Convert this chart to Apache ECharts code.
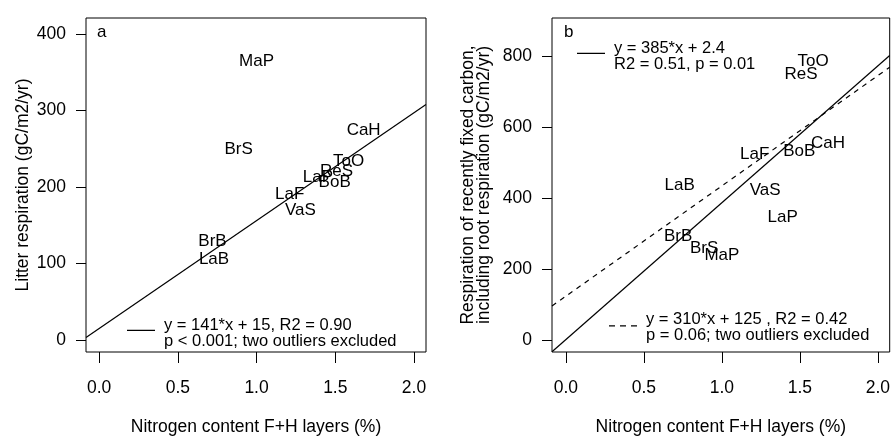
<!DOCTYPE html>
<html>
<head>
<meta charset="utf-8">
<script src="https://cdn.jsdelivr.net/npm/echarts@6/dist/echarts.min.js"></script>
<style>
html, body { margin: 0; padding: 0; background: #fff; }
#chart { width: 893px; height: 441px; }
</style>
</head>
<body>
<div id="chart"></div>
<script>
// site codes and nitrogen content of F+H layers (%)
var sites = ['LaB', 'BrB', 'BrS', 'MaP', 'LaF', 'VaS', 'LaP', 'BoB', 'ReS', 'ToO', 'CaH'];
var nitrogen = [0.73, 0.72, 0.886, 1.0, 1.21, 1.278, 1.39, 1.496, 1.508, 1.585, 1.68];
// panel a: litter respiration (gC/m2/yr)
var litterResp = [106, 129, 249, 364, 190, 169, 213, 206, 221, 234, 274];
// panel b: respiration of recently fixed carbon (gC/m2/yr)
var fixedResp = [436, 292, 260, 239, 525, 422, 346, 533, 749, 785, 554];

// regression lines, end points read at the plot edges
var fitA = [[-0.083, 3.3], [2.076, 307.7]];
var fitB = [[-0.089, -32], [2.076, 802]];
var fitBExcl = [[-0.089, 97], [2.076, 769]];

var xTicks = [0, 0.5, 1, 1.5, 2];
var yTicksA = [0, 100, 200, 300, 400];
var yTicksB = [0, 200, 400, 600, 800];

var legendA = 'y = 141*x + 15, R2 = 0.90\np < 0.001; two outliers excluded';
var legendB = 'y = 385*x + 2.4\nR2 = 0.51, p = 0.01';
var legendBExcl = 'y = 310*x + 125 , R2 = 0.42\np = 0.06; two outliers excluded';

var FONT = '"Liberation Sans", Arial, sans-serif';

// legend keys: a short line sitting a little above the middle of the two text lines
var SOLID_KEY = 'path://M0,0h0.01v0.01h-0.01z M0,3.5h28v1.2h-28z M27.99,13.99h0.01v0.01h-0.01z';
var DASH_KEY = 'path://M0,0h0.01v0.01h-0.01z M0,5h6v1.2h-6z M11,5h6v1.2h-6z M22,5h6v1.2h-6z M27.99,13.99h0.01v0.01h-0.01z';

function pointData(ys) {
    var out = [];
    for (var i = 0; i < sites.length; i++) {
        out.push([nitrogen[i], ys[i], sites[i]]);
    }
    return out;
}

function xAxisFor(idx, min, max) {
    return {
        gridIndex: idx,
        type: 'value',
        min: min,
        max: max,
        axisLine: { show: false, onZero: false },
        splitLine: { show: false },
        axisTick: { show: true, inside: false, length: 11, customValues: xTicks, lineStyle: { color: '#000' } },
        axisLabel: {
            customValues: xTicks,
            formatter: function (v) { return v.toFixed(1); },
            margin: 27,
            color: '#000',
            fontSize: 17.5,
            fontFamily: FONT
        },
        name: 'Nitrogen content F+H layers (%)',
        nameLocation: 'middle',
        nameGap: 66,
        nameTextStyle: { color: '#000', fontSize: 17.5, fontFamily: FONT }
    };
}

function yAxisFor(idx, min, max, ticks, name, gap) {
    return {
        gridIndex: idx,
        type: 'value',
        min: min,
        max: max,
        axisLine: { show: false, onZero: false },
        splitLine: { show: false },
        axisTick: { show: true, inside: false, length: 10, customValues: ticks, lineStyle: { color: '#000' } },
        axisLabel: {
            customValues: ticks,
            margin: 20,
            color: '#000',
            fontSize: 17.5,
            fontFamily: FONT
        },
        name: name,
        nameLocation: 'middle',
        nameGap: gap,
        nameTextStyle: { color: '#000', fontSize: 17.5, fontFamily: FONT, lineHeight: 16 }
    };
}

function labelSeries(idx, ys) {
    return {
        type: 'scatter',
        xAxisIndex: idx,
        yAxisIndex: idx,
        data: pointData(ys),
        symbolSize: 0,
        itemStyle: { color: '#000', opacity: 1 },
        label: {
            show: true,
            position: 'inside',
            formatter: function (p) { return p.value[2]; },
            color: '#000',
            opacity: 1,
            fontSize: 17,
            fontFamily: FONT
        },
        labelLayout: { hideOverlap: false },
        silent: true
    };
}

function lineSeries(name, idx, data, dash) {
    return {
        name: name,
        type: 'line',
        xAxisIndex: idx,
        yAxisIndex: idx,
        data: data,
        symbol: 'none',
        itemStyle: { color: '#000' },
        lineStyle: { color: '#000', width: 1.2, type: dash ? [5, 5] : 'solid' },
        silent: true
    };
}

function legendFor(name, text, icon, left, top) {
    return {
        data: [name],
        left: left,
        top: top,
        padding: 0,
        icon: icon,
        itemWidth: 28,
        itemHeight: 14,
        itemStyle: { color: '#000', borderWidth: 0 },
        selectedMode: false,
        formatter: function () { return text; },
        textStyle: { color: '#000', fontSize: 16.5, fontFamily: FONT, lineHeight: 15.5, padding: [0, 0, 0, 4] }
    };
}

var chart = echarts.init(document.getElementById('chart'));

var option = {
    backgroundColor: '#fff',
    animation: false,
    title: [
        { text: 'a', left: 97, top: 24, padding: 0, textStyle: { color: '#000', fontSize: 17, fontWeight: 'normal', fontFamily: FONT } },
        { text: 'b', left: 564, top: 24, padding: 0, textStyle: { color: '#000', fontSize: 17, fontWeight: 'normal', fontFamily: FONT } }
    ],
    grid: [
        { left: 86, top: 18, width: 340, height: 338, show: true, borderColor: '#000', borderWidth: 1 },
        { left: 552, top: 18, width: 341, height: 338, show: true, borderColor: '#000', borderWidth: 1 }
    ],
    xAxis: [
        xAxisFor(0, -0.083, 2.076),
        xAxisFor(1, -0.089, 2.076)
    ],
    yAxis: [
        yAxisFor(0, -15.5, 420.6, yTicksA, 'Litter respiration (gC/m2/yr)', 55),
        yAxisFor(1, -32.5, 907.6, yTicksB, 'Respiration of recently fixed carbon,\nincluding root respiration (gC/m2/yr)', 60)
    ],
    legend: [
        legendFor('fitA', legendA, SOLID_KEY, 127, 317),
        legendFor('fitB', legendB, SOLID_KEY, 577, 40),
        legendFor('fitBExcl', legendBExcl, DASH_KEY, 609, 311)
    ],
    series: [
        labelSeries(0, litterResp),
        lineSeries('fitA', 0, fitA, false),
        labelSeries(1, fixedResp),
        lineSeries('fitB', 1, fitB, false),
        lineSeries('fitBExcl', 1, fitBExcl, true)
    ]
};

chart.setOption(option);
</script>
</body>
</html>
